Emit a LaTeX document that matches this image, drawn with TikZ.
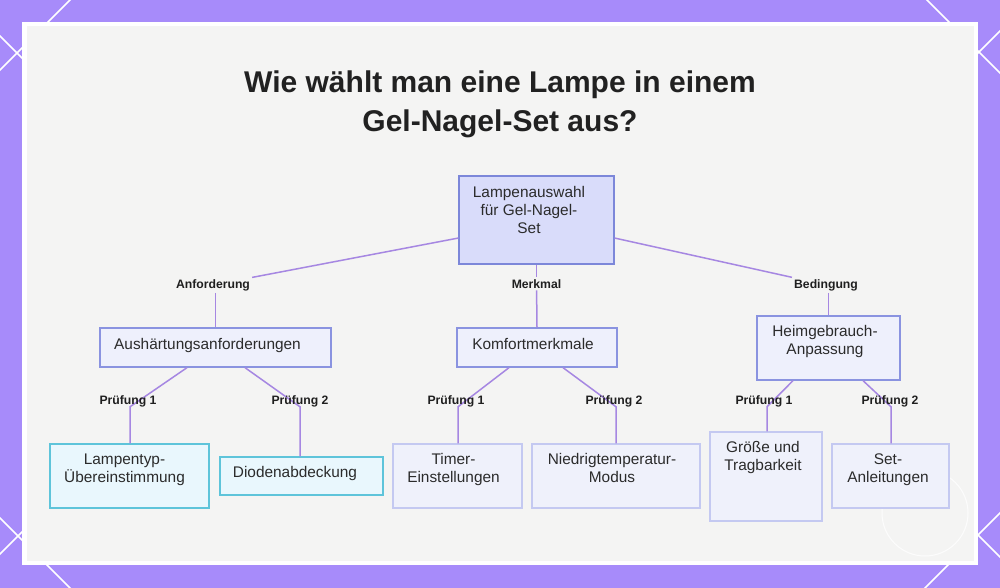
\documentclass[tikz,border=0pt]{standalone}
\usepackage{fontspec}
\setmainfont{Liberation Sans}
\usetikzlibrary{calc}
\definecolor{bgpurple}{HTML}{A78BFA}
\definecolor{panelfill}{HTML}{F4F4F3}
\definecolor{edgec}{HTML}{A687E2}
\definecolor{rootfill}{HTML}{D9DCFA}
\definecolor{rootdraw}{HTML}{7C87D9}
\definecolor{midfill}{HTML}{EEF0FC}
\definecolor{middraw}{HTML}{8A93E0}
\definecolor{cyanfill}{HTML}{E9F7FD}
\definecolor{cyandraw}{HTML}{5EC4DA}
\definecolor{lightfill}{HTML}{EFF1FB}
\definecolor{lightdraw}{HTML}{C4C9F1}
\definecolor{txtc}{HTML}{2B2B2B}
\newcommand\tln[4]{\node[txt, anchor=base] (#1) at (#2,#3) {#4};}
\tikzset{
  boxbase/.style={rectangle, inner sep=0pt, line width=1.3pt},
  rootbox/.style={boxbase, draw=rootdraw, fill=rootfill},
  midbox/.style={boxbase, draw=middraw, fill=midfill},
  cyanbox/.style={boxbase, draw=cyandraw, fill=cyanfill},
  lightbox/.style={boxbase, draw=lightdraw, fill=lightfill},
  txt/.style={inner sep=0pt, text=txtc, font=\fontsize{15.4}{18}\selectfont},
  lbl/.style={inner sep=0pt, text=black!88, font=\bfseries\fontsize{12.2}{14}\selectfont},
  ttl/.style={inner sep=0pt, text=black!87, font=\bfseries\fontsize{30}{36}\selectfont},
  edge/.style={draw=edgec, line width=1.5pt},
  deco/.style={draw=white, line width=1.5pt}
}
\begin{document}
\begin{tikzpicture}[x=1pt,y=-1pt]
\useasboundingbox (0,0) rectangle (1000,588);
\fill[bgpurple] (0,0) rectangle (1000,588);
\begin{scope}
\clip (0,0) rectangle (1000,588);
\draw[deco] (80,-10) -- (-10,80);
\draw[deco] (-10,26) -- (60,96);
\draw[deco] (917,-10) -- (1010,83);
\draw[deco] (1010,21) -- (940,91);
\draw[deco] (-10,508) -- (90,608);
\draw[deco] (-10,564) -- (60,494);
\draw[deco] (1010,503) -- (905,608);
\draw[deco] (940,497) -- (1010,567);
\end{scope}
% panel
\fill[white] (22,22) rectangle (978,565);
\fill[panelfill] (26.5,26.5) rectangle (973.5,561);
% watermark circle
\draw[white, line width=1pt, opacity=0.8] (925,513) circle (43);
% title
\node[ttl, anchor=base] (t1) at (500,93) {Wie wählt man eine Lampe in einem};
\node[ttl, anchor=base] (t2) at (500,132) {Gel-Nagel-Set aus?};
% boxes
\node[rootbox, minimum width=155pt, minimum height=88pt] (root) at (536.5,220) {};
\node[midbox, minimum width=231pt, minimum height=39pt] (aus) at (215.5,347.5) {};
\node[midbox, minimum width=160pt, minimum height=39pt] (kom) at (537,347.5) {};
\node[midbox, minimum width=143pt, minimum height=64pt] (heim) at (828.5,348) {};
\node[cyanbox, minimum width=159pt, minimum height=64pt] (lamp) at (129.5,476) {};
\node[cyanbox, minimum width=163pt, minimum height=38pt] (diod) at (301.5,476) {};
\node[lightbox, minimum width=129pt, minimum height=64pt] (timer) at (457.5,476) {};
\node[lightbox, minimum width=168pt, minimum height=64pt] (nied) at (616,476) {};
\node[lightbox, minimum width=112pt, minimum height=89pt] (groe) at (766,476.5) {};
\node[lightbox, minimum width=117pt, minimum height=64pt] (setan) at (890.5,476) {};
% box texts
\tln{root1}{529}{197}{Lampenauswahl}
\tln{root2}{529}{215}{für Gel-Nagel-}
\tln{root3}{529}{233}{Set}
\tln{aust}{207.5}{349}{Aushärtungsanforderungen}
\tln{komt}{533}{349}{Komfortmerkmale}
\tln{heim1}{825}{336}{Heimgebrauch-}
\tln{heim2}{825}{354}{Anpassung}
\tln{lamp1}{124.5}{464}{Lampentyp-}
\tln{lamp2}{124.5}{482}{Übereinstimmung}
\tln{diodt}{295}{477}{Diodenabdeckung}
\tln{timer1}{453.5}{464}{Timer-}
\tln{timer2}{453.5}{482}{Einstellungen}
\tln{nied1}{612}{464}{Niedrigtemperatur-}
\tln{nied2}{612}{482}{Modus}
\tln{groe1}{763}{452}{Größe und}
\tln{groe2}{763}{470}{Tragbarkeit}
\tln{setan1}{888}{464}{Set-}
\tln{setan2}{888}{482}{Anleitungen}
% top-level labels
\node[lbl, anchor=base, inner sep=2pt] (anf) at (213,288) {Anforderung};
\node[lbl, anchor=base, inner sep=2pt] (mer) at (536.5,288) {Merkmal};
\node[lbl, anchor=base, inner sep=2pt] (bed) at (826,288) {Bedingung};
\draw[edge] (root.193) -- (anf);
\draw[edge] (anf.south -| aus.north) -- (aus.north);
\draw[edge] (root.south) -- (mer);
\draw[edge] (mer) -- (kom.north);
\draw[edge] (root.347) -- (bed);
\draw[edge] (bed.south -| heim.north) -- (heim.north);
% second-level labels
\node[lbl, anchor=base] (pa1) at (128,404) {\phantom{Prüfung 1}};
\node[lbl, anchor=base] (pa2) at (300,404) {\phantom{Prüfung 2}};
\node[lbl, anchor=base] (pk1) at (456,404) {\phantom{Prüfung 1}};
\node[lbl, anchor=base] (pk2) at (614,404) {\phantom{Prüfung 2}};
\node[lbl, anchor=base] (ph1) at (764,404) {\phantom{Prüfung 1}};
\node[lbl, anchor=base] (ph2) at (890,404) {\phantom{Prüfung 2}};
\draw[edge] ([xshift=-28.5pt]aus.south) -- ([xshift=2pt]pa1.south) -- ([xshift=2pt]pa1.south |- lamp.north);
\draw[edge] ([xshift=29.5pt]aus.south) -- (pa2.south) -- (pa2.south |- diod.north);
\draw[edge] ([xshift=-28pt]kom.south) -- ([xshift=2pt]pk1.south) -- ([xshift=2pt]pk1.south |- timer.north);
\draw[edge] ([xshift=26pt]kom.south) -- ([xshift=2pt]pk2.south) -- ([xshift=2pt]pk2.south |- nied.north);
\draw[edge] ([xshift=-35.5pt]heim.south) -- ([xshift=3pt]ph1.south) -- ([xshift=3pt]ph1.south |- groe.north);
\draw[edge] ([xshift=34.5pt]heim.south) -- ([xshift=1pt]ph2.south) -- ([xshift=1pt]ph2.south |- setan.north);
\node[lbl, anchor=base] (pa1t) at (pa1.base) {Prüfung 1};
\node[lbl, anchor=base] (pa2t) at (pa2.base) {Prüfung 2};
\node[lbl, anchor=base] (pk1t) at (pk1.base) {Prüfung 1};
\node[lbl, anchor=base] (pk2t) at (pk2.base) {Prüfung 2};
\node[lbl, anchor=base] (ph1t) at (ph1.base) {Prüfung 1};
\node[lbl, anchor=base] (ph2t) at (ph2.base) {Prüfung 2};
\end{tikzpicture}
\end{document}
